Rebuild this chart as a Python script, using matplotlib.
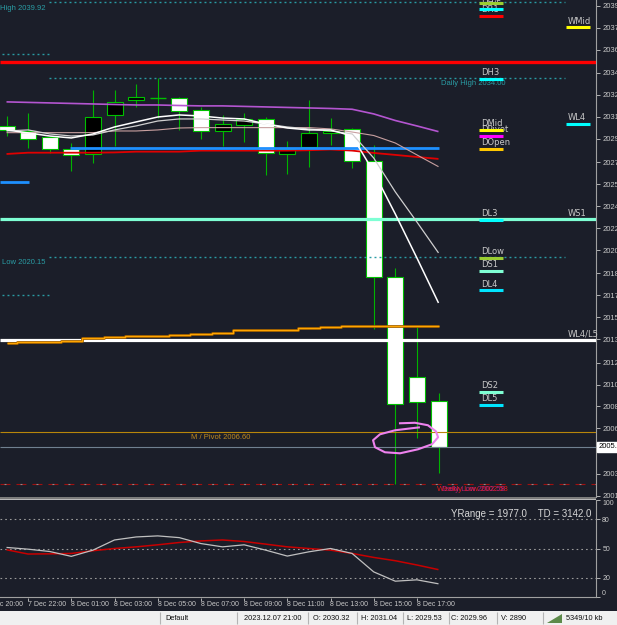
import matplotlib
matplotlib.use("Agg")
import matplotlib.pyplot as plt
import matplotlib.transforms as mtransforms
from matplotlib.patches import Rectangle, Polygon

plt.rcParams["font.family"] = ["DejaVu Sans"]
plt.rcParams["lines.scale_dashes"] = False
plt.rcParams["lines.solid_capstyle"] = "butt"

W, H = 617, 625
BG = "#1b1e29"
GRID = "#a0a0a0"
TXT = "#c8c8c8"
TEAL = "#2a9ca4"
LAB = "Liberation Sans"

# XAUUSD H1, bar 0 = 2023.12.07 21:00
opens = [2030.32, 2029.94, 2029.45, 2028.52, 2028.13, 2031.15, 2032.31, 2032.44, 2032.46, 2031.53,
         2029.91, 2030.37, 2030.84, 2028.13, 2028.67, 2029.75, 2030.06, 2027.59, 2018.62, 2010.88, 2009.03]
highs = [2031.04, 2031.30, 2029.50, 2028.98, 2033.08, 2033.08, 2033.54, 2034.00, 2032.50, 2031.77,
         2031.15, 2031.30, 2030.99, 2029.14, 2032.31, 2030.91, 2030.14, 2028.83, 2019.32, 2014.75, 2009.65]
lows = [2029.53, 2028.60, 2028.21, 2026.82, 2027.43, 2028.75, 2031.77, 2030.91, 2029.99, 2029.29,
        2028.75, 2029.06, 2026.51, 2026.59, 2027.13, 2028.83, 2027.05, 2014.60, 2002.58, 2006.17, 2003.46]
closes = [2029.96, 2029.29, 2028.52, 2028.05, 2030.99, 2032.15, 2032.54, 2032.48, 2031.46, 2029.91,
          2030.45, 2030.84, 2028.21, 2028.52, 2029.75, 2029.91, 2027.59, 2018.62, 2008.80, 2008.95, 2005.47]

# moving averages
ma_white = [2029.99, 2029.76, 2029.52, 2029.37, 2029.68, 2030.22, 2030.61, 2030.99, 2031.15, 2031.07,
            2030.91, 2030.84, 2030.45, 2030.14, 2029.99, 2029.99, 2029.52, 2026.74, 2023.49, 2020.09, 2016.61]
ma_silver = [2029.91, 2029.99, 2029.68, 2029.52, 2029.60, 2029.99, 2030.30, 2030.68, 2030.84, 2030.84,
             2030.76, 2030.68, 2030.45, 2030.22, 2030.07, 2029.91, 2029.68, 2027.82, 2025.20, 2022.87, 2020.48]
ma_purple = [2032.16, 2032.12, 2032.08, 2032.04, 2032.00, 2031.96, 2031.92, 2031.92, 2031.88, 2031.85,
             2031.85, 2031.81, 2031.77, 2031.73, 2031.69, 2031.65, 2031.59, 2031.23, 2030.72, 2030.30, 2029.86]
ma_pink = [2029.78, 2029.78, 2029.78, 2029.78, 2029.78, 2029.91, 2029.91, 2029.99, 2030.14, 2030.17,
           2030.17, 2030.17, 2030.17, 2030.17, 2030.17, 2030.07, 2029.83, 2029.56, 2028.98, 2028.06, 2027.15]
ma_red = [2028.13, 2028.23, 2028.23, 2028.23, 2028.23, 2028.25, 2028.31, 2028.31, 2028.31, 2028.39,
          2028.39, 2028.39, 2028.39, 2028.39, 2028.42, 2028.48, 2028.39, 2028.21, 2028.06, 2027.90, 2027.75]
ma_orange = [2013.52, 2013.60, 2013.60, 2013.70, 2013.88, 2014.00, 2014.08, 2014.08, 2014.16, 2014.24,
             2014.31, 2014.50, 2014.50, 2014.54, 2014.65, 2014.73, 2014.81, 2014.83, 2014.83, 2014.83, 2014.83]

# stochastic
stoch_k = [51.1, 49.3, 46.9, 41.9, 48.3, 58.8, 61.9, 63.0, 61.2, 55.1, 51.7,
           53.8, 48.3, 42.2, 46.6, 50.0, 44.9, 25.9, 16.3, 17.7, 13.6]
stoch_d = [48.7, 44.3, 44.5, 44.9, 47.7, 50.0, 51.7, 53.8, 56.2, 57.8, 58.8,
           57.2, 54.5, 51.7, 50.0, 48.3, 44.9, 40.8, 37.4, 33.0, 28.2]

# levels
daily_open = 2028.56
prev_open = 2026.00
red_level = 2035.25
ws1 = 2023.08
wl4_l5 = 2013.71
pivot = 2006.60
bid = 2005.50
low_level = 2002.58
dotted_long = [2039.85, 2034.00, 2020.15]
dotted_short = [2035.86, 2017.21]

d_names = ["DHigh", "DH4", "DR1", "DH3", "DMid", "DPivot", "DOpen", "DL3", "DLow", "DS1", "DL4", "DS2", "DL5"]
d_prices = [2039.83, 2039.34, 2038.84, 2033.93, 2029.99, 2029.53, 2028.52, 2023.04, 2020.10, 2019.09,
            2017.58, 2009.73, 2008.75]
d_colors = ["#9acd32", "#00ffff", "#ff0000", "#00ffff", "#ffff00", "#ff00ff", "#ffc800", "#00ffff",
            "#9acd32", "#7fffd4", "#00e5ff", "#7fffd4", "#00e5ff"]
w_names = ["WMid", "WL4", "WS1", "WL4/L5"]
w_prices = [2037.93, 2030.48, ws1, wl4_l5]
w_colors = ["#ffff00", "#00ffff", None, None]

price_ticks = [2039.6, 2037.9, 2036.2, 2034.4, 2032.7, 2031.0, 2029.3, 2027.5, 2025.8, 2024.1, 2022.4,
               2020.7, 2018.9, 2017.2, 2015.5, 2013.8, 2012.0, 2010.3, 2008.6, 2006.9, 2005.2, 2003.4, 2001.7]

time_bars = [-1, 1, 3, 5, 7, 9, 11, 13, 15, 17, 19]
time_labels = ["7 Dec 20:00", "7 Dec 22:00", "8 Dec 01:00", "8 Dec 03:00", "8 Dec 05:00", "8 Dec 07:00",
               "8 Dec 09:00", "8 Dec 11:00", "8 Dec 13:00", "8 Dec 15:00", "8 Dec 17:00"]

status_text = ["Default", "2023.12.07 21:00", "O: 2030.32", "H: 2031.04", "L: 2029.53", "C: 2029.96",
               "V: 2890", "5349/10 kb"]

# hand drawn ellipse (bar, price)
loop_x = [18.17, 18.91, 19.51, 19.88, 19.98, 19.70, 19.05, 18.22, 17.52, 17.06, 16.97, 17.29, 17.99, 18.77, 19.14]
loop_p = [2007.30, 2007.34, 2007.15, 2006.68, 2006.22, 2005.68, 2005.29, 2004.98, 2005.06, 2005.45,
          2005.99, 2006.45, 2006.76, 2006.92, 2006.99]

BAR0 = 6.5
STEP = 21.6


def bx(px):
    # pixel column -> bar units
    return (px - BAR0) / STEP


n = len(opens)
bars = list(range(n))
xlim = (bx(0), bx(596))

fig = plt.figure(figsize=(W / 100, H / 100), dpi=100, facecolor=BG)
ax = fig.add_axes([0, 1 - 497 / H, 596 / W, 497 / H], facecolor=BG)
ax.set_xlim(*xlim)
ax.set_ylim(2001.60, 2040.04)

# candles
body_w = 16 / STEP
ax.vlines(bars, lows, highs, color="#00b400", lw=0.8, zorder=2)
for i in bars:
    o, c = opens[i], closes[i]
    if abs(c - o) < 0.06:
        ax.hlines(o, i - body_w / 2, i + body_w / 2, color="#00c000", lw=1.0, zorder=2.5)
        continue
    face = "white" if c < o else "black"
    ax.add_patch(Rectangle((i - body_w / 2, min(o, c)), body_w, abs(c - o),
                           facecolor=face, edgecolor="#00c000", lw=0.8, zorder=2.5))

# horizontal levels
ax.axhline(red_level, color="#ff0000", lw=2.4, zorder=3)
ax.axhline(ws1, color="#7fffd4", lw=2.3, zorder=3)
ax.axhline(wl4_l5, color="white", lw=2.3, zorder=3)
ax.axhline(pivot, color="#b8860b", lw=0.8, zorder=3)
ax.axhline(bid, color="#708090", lw=0.8, zorder=3)
ax.axhline(low_level, color="#a01010", lw=0.8, ls=(0, (7.2, 4.3)), zorder=3)
ax.axhline(low_level, color="#8a8a8a", lw=0.8, ls=(8.6, (1.4, 10.1)), zorder=3)
ax.hlines(daily_open, 3 - 0.05, n - 1, color="#1e90ff", lw=2.0, zorder=3.2)
ax.hlines(prev_open, xlim[0], bx(29), color="#1e90ff", lw=2.0, zorder=3.2)
for p in dotted_long:
    ax.hlines(p, bx(49), bx(565), color=TEAL, lw=1.0, ls=(0, (1.4, 2.2)), zorder=3)
for p in dotted_short:
    ax.hlines(p, bx(2), bx(49), color=TEAL, lw=1.0, ls=(0, (1.4, 2.2)), zorder=3)

# moving averages
ax.plot(bars, ma_orange, color="#a06000", lw=2.0, drawstyle="steps-mid", zorder=3.5)
ax.plot(bars, ma_orange, color="#ffa500", lw=0.9, drawstyle="steps-mid", zorder=3.6)
ax.plot(bars, ma_purple, color="#b455d0", lw=1.2, zorder=4)
ax.plot(bars, ma_pink, color="#c8a0a0", lw=0.8, zorder=4)
ax.plot(bars, ma_red, color="#e00000", lw=1.3, zorder=3.1)
ax.plot(bars, ma_silver, color="#d0d0d0", lw=0.9, zorder=4)
ax.plot(bars, ma_white, color="white", lw=1.1, zorder=4)

# labels on lines
lab_kw = dict(fontfamily=LAB, fontsize=5.5, textcoords="offset points", clip_on=True, zorder=5)
ax.annotate("High 2039.92", (bx(46), 2039.85), xytext=(0, -1.5), color=TEAL, ha="right", va="top", **lab_kw)
ax.annotate("Low 2020.15", (bx(46), 2020.15), xytext=(0, -1.5), color=TEAL, ha="right", va="top", **lab_kw)
ax.annotate("Daily High 2034.00", (bx(473), 2034.00), xytext=(0, -1.5), color=TEAL, ha="center", va="top", **lab_kw)
ax.annotate("M / Pivot 2006.60", (bx(221), pivot), xytext=(0, -1.5), color="#c08a20", ha="center", va="top", **lab_kw)
ax.annotate("Weekly Low 2002.58", (bx(472), low_level), xytext=(0, -1.5), color="#e81818", ha="center", va="top", **lab_kw)
ax.annotate("Daily Low 2002.58", (bx(473), low_level), xytext=(0, -1.5), color="#d0208c", ha="center", va="top",
            alpha=0.8, **lab_kw)

for name, p, col in zip(d_names, d_prices, d_colors):
    ax.annotate(name, (bx(480), p), xytext=(0.5, 1.2), textcoords="offset points", color=TXT,
                fontsize=6, ha="left", va="bottom", zorder=5)
    ax.hlines(p, bx(479), bx(503), color=col, lw=2.2, zorder=6)
for name, p, col in zip(w_names, w_prices, w_colors):
    ax.annotate(name, (bx(567), p), xytext=(0.5, 1.2), textcoords="offset points", color=TXT,
                fontsize=6, ha="left", va="bottom", zorder=5, annotation_clip=False)
    if col:
        ax.hlines(p, bx(566), bx(590), color=col, lw=2.2, zorder=6)

ax.plot(loop_x, loop_p, color="#ee82ee", lw=1.5, zorder=6)

# price axis
ax.yaxis.tick_right()
ax.set_yticks(price_ticks)
ax.set_yticklabels([f"{t:.1f}" for t in price_ticks], fontfamily=LAB)
ax.tick_params(axis="y", length=3, width=0.6, colors=TXT, labelsize=5.5, pad=1.5)
ax.set_xticks([])
for s in ["left", "top", "bottom"]:
    ax.spines[s].set_visible(False)
ax.spines["right"].set_color(GRID)
ax.spines["right"].set_linewidth(0.8)
trans = mtransforms.blended_transform_factory(ax.transAxes, ax.transData)
ax.text(1.004, closes[-1], "2005.5", transform=trans, fontfamily=LAB, fontsize=5.5, color="black",
        va="center", ha="left", zorder=10, clip_on=False,
        bbox=dict(boxstyle="square,pad=0.15", facecolor="white", edgecolor="white"))

# splitter between panes
fig.add_artist(Rectangle((0, 1 - 500 / H), 596 / W, 3 / H, transform=fig.transFigure,
                         facecolor="#b8b8b8", edgecolor="none"))
fig.add_artist(Rectangle((0, 1 - 498.5 / H), 596 / W, 1.5 / H, transform=fig.transFigure,
                         facecolor="#7c7c7c", edgecolor="none"))

# stochastic pane
ax2 = fig.add_axes([0, 1 - 597 / H, 596 / W, 97 / H], facecolor=BG)
ax2.set_xlim(*xlim)
ax2.set_ylim(0, 100)
for lvl in [80, 50, 20]:
    ax2.axhline(lvl, color="#9a9a9a", lw=0.8, ls=(0, (1.2, 2.2)))
ax2.plot(bars, stoch_d, color="#c80000", lw=1.1)
ax2.plot(bars, stoch_k, color="#c0c0c0", lw=0.9)
ax2.text(591 / 596, 86, "YRange = 1977.0    TD = 3142.0", transform=ax2.get_yaxis_transform(),
         fontfamily=LAB, fontsize=7, color="#d8d8d8", ha="right", va="center")
ax2.yaxis.tick_right()
ax2.set_yticks([0, 20, 50, 80, 100])
ax2.set_yticklabels(["0", "20", "50", "80", "100"], fontfamily=LAB)
ax2.tick_params(axis="y", length=3, width=0.6, colors=TXT, labelsize=5, pad=1.5)
for lbl in ax2.get_yticklabels():
    if lbl.get_text() == "100":
        lbl.set_va("top")
    elif lbl.get_text() == "0":
        lbl.set_va("bottom")
ax2.set_xticks([])
for s in ["left", "top"]:
    ax2.spines[s].set_visible(False)
for s in ["right", "bottom"]:
    ax2.spines[s].set_color(GRID)
    ax2.spines[s].set_linewidth(0.8)

tx = ax2.get_xaxis_transform()
for b, lab in zip(time_bars, time_labels):
    ax2.plot([b, b], [-0.01, -0.045], color=TXT, lw=0.6, transform=tx, clip_on=False)
    ax2.text(b, -0.04, lab, transform=tx, fontfamily=LAB, fontsize=5, color=TXT,
             ha="left", va="top", clip_on=False)

# status bar
ax3 = fig.add_axes([0, 0, 1, 14 / H], facecolor="#f0f0f0")
ax3.set_xlim(0, W)
ax3.set_ylim(0, 14)
ax3.axis("off")
ax3.add_patch(Rectangle((0, 0), W, 14, facecolor="#f0f0f0", edgecolor="none"))
for sx in [160, 237, 308, 357, 403, 449, 497, 543]:
    ax3.plot([sx, sx], [1, 13], color="#b4b4b4", lw=0.8)
for sx, s in zip([165, 244, 313, 361, 407, 451, 501, 566], status_text):
    ax3.text(sx, 6.5, s, fontfamily=LAB, fontsize=5.3, color="#101010", ha="left", va="center")
ax3.add_patch(Polygon([[547, 2.5], [562, 2.5], [562, 11]], closed=True, facecolor="#5d8a4a", edgecolor="none"))

fig.savefig("out.png", dpi=100, facecolor=BG)
